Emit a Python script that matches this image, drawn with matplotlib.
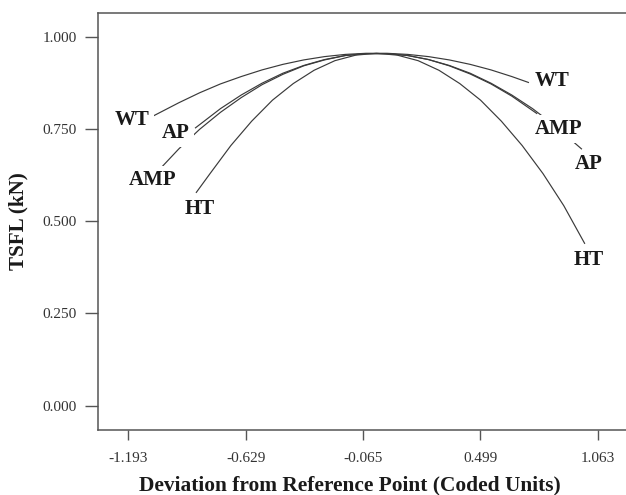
import numpy as np
import matplotlib.pyplot as plt

# response trace data (coded deviation vs TSFL in kN)
wt_x = [-1.07, -0.95, -0.85, -0.75, -0.65, -0.55, -0.45, -0.35, -0.25, -0.15, -0.05,
        0.05, 0.15, 0.25, 0.35, 0.45, 0.55, 0.65, 0.73]
wt_y = [0.786, 0.821, 0.848, 0.872, 0.892, 0.910, 0.925, 0.937, 0.946, 0.952, 0.955,
        0.955, 0.952, 0.946, 0.937, 0.925, 0.910, 0.892, 0.876]

ap_x = [-0.87, -0.75, -0.65, -0.55, -0.45, -0.35, -0.25, -0.15, -0.05,
        0.05, 0.15, 0.25, 0.35, 0.45, 0.55, 0.65, 0.75, 0.85, 0.985]
ap_y = [0.753, 0.805, 0.842, 0.874, 0.901, 0.922, 0.938, 0.949, 0.954,
        0.954, 0.949, 0.938, 0.922, 0.901, 0.874, 0.842, 0.805, 0.762, 0.696]

amp_x = [-1.03, -0.95, -0.85, -0.75, -0.65, -0.55, -0.45, -0.35, -0.25, -0.15, -0.05,
         0.05, 0.15, 0.25, 0.35, 0.45, 0.55, 0.65, 0.77]
amp_y = [0.648, 0.696, 0.749, 0.795, 0.835, 0.870, 0.898, 0.921, 0.937, 0.949, 0.954,
         0.954, 0.949, 0.938, 0.921, 0.899, 0.872, 0.839, 0.792]

ht_x = [-0.866, -0.8, -0.7, -0.6, -0.5, -0.4, -0.3, -0.2, -0.1, 0.0,
        0.1, 0.2, 0.3, 0.4, 0.5, 0.6, 0.7, 0.8, 0.9, 1.0]
ht_y = [0.578, 0.629, 0.705, 0.771, 0.828, 0.873, 0.909, 0.935, 0.950, 0.955,
        0.950, 0.935, 0.909, 0.873, 0.828, 0.771, 0.705, 0.629, 0.542, 0.440]

x_ticks = [-1.193, -0.629, -0.065, 0.499, 1.063]
y_ticks = [0.0, 0.25, 0.5, 0.75, 1.0]

# curve labels: (text, x, y)
labels = [("WT", -1.175, 0.774), ("AP", -0.964, 0.739), ("AMP", -1.077, 0.612),
          ("HT", -0.848, 0.532), ("WT", 0.846, 0.879), ("AMP", 0.877, 0.749),
          ("AP", 1.021, 0.654), ("HT", 1.021, 0.396)]

plt.rcParams['font.family'] = ['Liberation Serif', 'DejaVu Serif']

fig = plt.figure(figsize=(6.26, 4.95), dpi=100)
ax = fig.add_axes([98 / 626, 1 - 430 / 495, 1 - 98 / 626, (430 - 13) / 495])

line_color = '#3a3a3a'
for xs, ys in [(wt_x, wt_y), (ap_x, ap_y), (amp_x, amp_y), (ht_x, ht_y)]:
    ax.plot(xs, ys, color=line_color, lw=0.85, zorder=2)

for txt, x, y in labels:
    ax.text(x, y, txt, ha='center', va='center', fontsize=15, fontweight='bold',
            color='#1a1a1a', zorder=3,
            bbox=dict(facecolor='white', edgecolor='none', pad=3))

ax.set_xlim(-1.3385, 1.199)
ax.set_ylim(-0.0659, 1.0642)
ax.set_xticks(x_ticks)
ax.set_xticklabels(['%.3f' % v for v in x_ticks])
ax.set_yticks(y_ticks)
ax.set_yticklabels(['%.3f' % v for v in y_ticks])

ax.spines['right'].set_visible(False)
for s in ['left', 'bottom', 'top']:
    ax.spines[s].set_color('#555555')
    ax.spines[s].set_linewidth(1.1)

ax.tick_params(axis='x', direction='out', length=7.5, width=1.0, color='#555555',
               labelsize=11, labelcolor='#333333', pad=8)
ax.tick_params(axis='y', direction='out', length=9.5, width=1.0, color='#555555',
               labelsize=11, labelcolor='#333333', pad=6)

ax.set_xlabel('Deviation from Reference Point (Coded Units)', fontsize=15.4,
              fontweight='bold', color='#1a1a1a', labelpad=8)
ax.xaxis.label.set_x(0.477)
ax.set_ylabel('TSFL (kN)', fontsize=15.2, fontweight='bold', color='#1a1a1a', labelpad=10)

fig.savefig('out.png', dpi=100)
